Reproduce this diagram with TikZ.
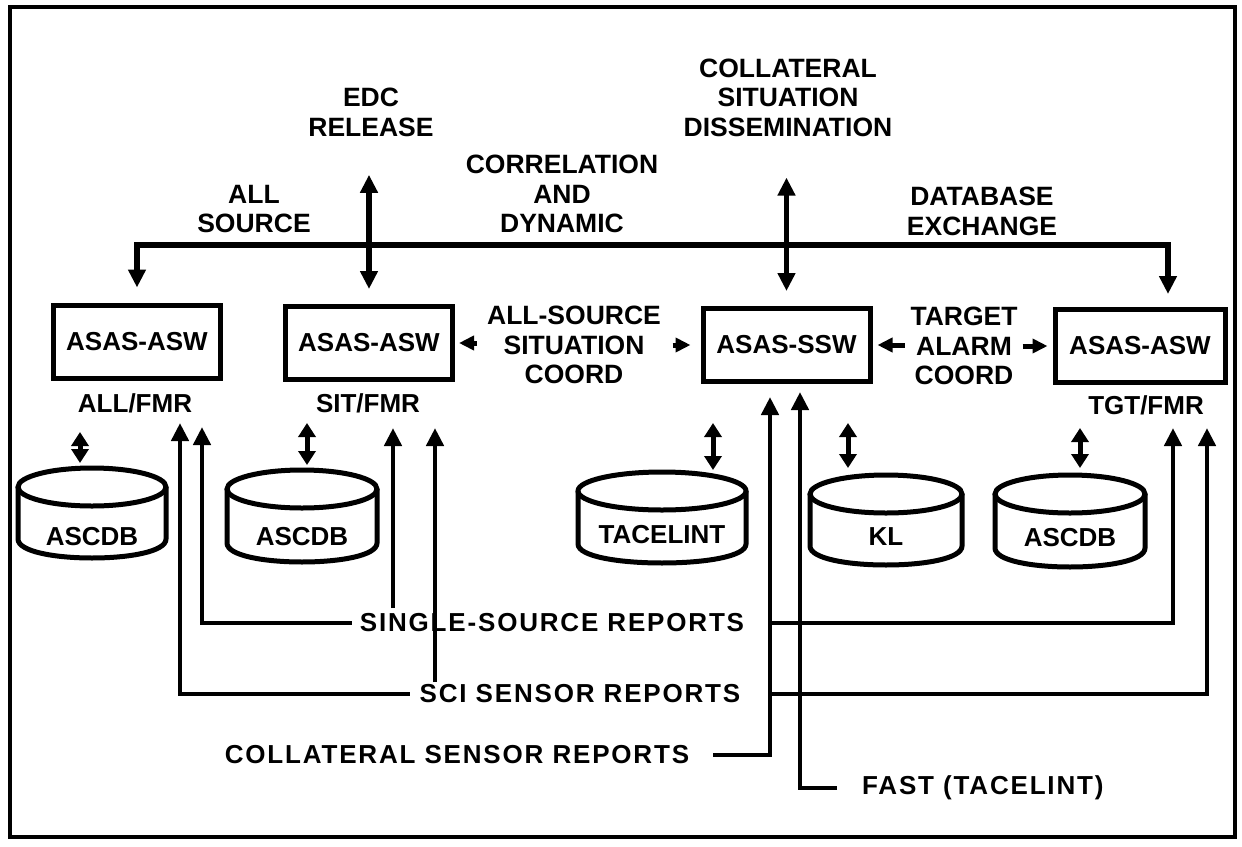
\documentclass[tikz,border=0pt]{standalone}
\usepackage{fontspec}
\setmainfont{Liberation Sans}
\usetikzlibrary{arrows.meta}
\tikzset{
  BigT/.tip={Triangle[width=17pt,length=18pt]},
  SmT/.tip={Triangle[width=14pt,length=15pt]},
  DbT/.tip={Triangle[width=17pt,length=14pt]},
}
\newcommand{\dbcyl}[8]{%
  \draw[cyl] ({#2-#5},#3) -- ({#2-#5},#4) .. controls ({#2-#5},{#4+1.333*#6}) and ({#2+#5},{#4+1.333*#6}) .. ({#2+#5},#4) -- ({#2+#5},#3);
  \draw[cyl] (#2,#3) ellipse [x radius=#5, y radius=#6];
  \coordinate (#1top) at (#2,{#3-#6});
  \node[boxlbl] (#1) at (#2,#8) {#7};
}
\begin{document}
\begin{tikzpicture}[x=1pt,y=-1pt,
  lbl/.style={font=\bfseries\fontsize{26.5}{29.5}\selectfont, align=center, inner sep=0pt},
  boxlbl/.style={font=\bfseries\fontsize{26}{30}\selectfont, inner sep=0pt},
  rep/.style={font=\bfseries\fontsize{26}{30}\selectfont\addfontfeature{LetterSpace=7}, inner sep=0pt},
  sysbox/.style={draw, line width=5pt, minimum width=167pt, minimum height=73pt, inner sep=0pt, font=\bfseries\fontsize{26}{30}\selectfont},
  bus/.style={line width=5.5pt},
  small/.style={line width=5pt},
  low/.style={line width=4.5pt},
  cyl/.style={line width=5pt},
]
\useasboundingbox (0,0) rectangle (1242,846);
\draw[line width=4pt] (10,7) rectangle (1235,837);

% system boxes
\node[sysbox] (A) at (137,341.5) {ASAS-ASW};
\node[sysbox] (S) at (369,343) {ASAS-ASW};
\node[sysbox] (W) at (786.5,345) {ASAS-SSW};
\node[sysbox, minimum width=170pt] (T) at (1140,346) {ASAS-ASW};

\node[boxlbl] (Al) at (135,403) {ALL/FMR};
\node[boxlbl] (Sl) at (368,403) {SIT/FMR};
\node[boxlbl] (Tl) at (1146,405) {TGT/FMR};

% top labels
\node[lbl] (allsrc) at (254,209) {ALL\\SOURCE};
\node[lbl] (edc) at (371,112.5) {EDC\\RELEASE};
\node[lbl] (corr) at (562,194) {CORRELATION\\AND\\DYNAMIC};
\node[lbl] (coll) at (788,97.5) {COLLATERAL\\SITUATION\\DISSEMINATION};
\node[lbl] (dbx) at (982,211.5) {DATABASE\\EXCHANGE};
\node[lbl] (asc) at (574,345) {ALL-SOURCE\\SITUATION\\COORD};
\node[lbl] (tac) at (964,346) {TARGET\\ALARM\\COORD};

% bus
\coordinate (busy) at (0,245);
\coordinate (tin) at (1168,309);
\draw[bus, BigT-BigT] ([yshift=15pt]A.north) -- (A.north |- busy) -- (tin |- busy) -- ([yshift=15pt]tin);
\coordinate (edctop) at ([yshift=-38pt]edc.south);
\draw[bus, BigT-BigT] (S.north |- edctop) -- ([yshift=15pt]S.north);
\coordinate (colltop) at ([yshift=-41pt]coll.south);
\draw[bus, BigT-BigT] (W.north |- colltop) -- ([yshift=15pt]W.north);

% coordination arrows
\draw[small, -SmT] ([xshift=22pt]S.east) -- ([xshift=4pt]S.east);
\draw[small, -SmT] ([xshift=-28pt]W.west) -- ([xshift=-10pt]W.west);
\draw[small, -SmT] ([xshift=32pt]W.east) -- ([xshift=5pt]W.east);
\draw[small, -SmT] ([xshift=-30pt]T.west) -- ([xshift=-5pt]T.west);

% databases
\dbcyl{c1}{92}{487}{539}{74}{19}{ASCDB}{537}
\dbcyl{c2}{302}{489}{543}{75}{19}{ASCDB}{537}
\dbcyl{c3}{662}{491}{544}{84}{19}{TACELINT}{535}
\dbcyl{c4}{886}{494}{546}{76}{19}{KL}{537}
\dbcyl{c5}{1070}{494}{548}{75}{19}{ASCDB}{538}

\coordinate (d1a) at (80,432);   \coordinate (d1b) at (80,463);
\coordinate (d2a) at (307,423);  \coordinate (d2b) at (307,465);
\coordinate (d3a) at (713,423);  \coordinate (d3b) at (713,470);
\coordinate (d4a) at (848,423);  \coordinate (d4b) at (848,468);
\coordinate (d5a) at (1080,428); \coordinate (d5b) at (1080,468);
\foreach \i in {1,...,5}{\draw[small, DbT-DbT] (d\i a) -- (d\i b);}

% report labels
\node[rep] (ssr) at (552,623) {SINGLE-SOURCE REPORTS};
\node[rep] (sci) at (580,694) {SCI SENSOR REPORTS};
\node[rep] (col) at (457,755) {COLLATERAL SENSOR REPORTS};
\node[rep, anchor=west] (fast) at (862,788) {FAST (TACELINT)};

% input tips
\coordinate (a1) at (180,423);
\coordinate (a2) at (202,427);
\coordinate (s1) at (393,428);
\coordinate (s2) at (435,428);
\coordinate (w1) at (770,397);
\coordinate (w2) at (800,392);
\coordinate (t1) at (1173,428);
\coordinate (t2) at (1207,428);
\coordinate (s1b) at (393,608);
\coordinate (s2b) at (435,682);

\draw[low, -BigT] ([xshift=-8pt]ssr.west) -| (a2);
\draw[low, -BigT] ([xshift=-10pt]sci.west) -| (a1);
\draw[low, -BigT] (s1b) -- (s1);
\draw[low, -BigT] (s2b) -- (s2);
\draw[low, -BigT] ([xshift=24pt]col.east) -| (w1);
\draw[low, -BigT] ([xshift=-25pt]fast.west) -| (w2);
\draw[low, -BigT] (w1 |- ssr.east) -| (t1);
\draw[low, -BigT] (w1 |- sci.east) -| (t2);
\end{tikzpicture}
\end{document}
